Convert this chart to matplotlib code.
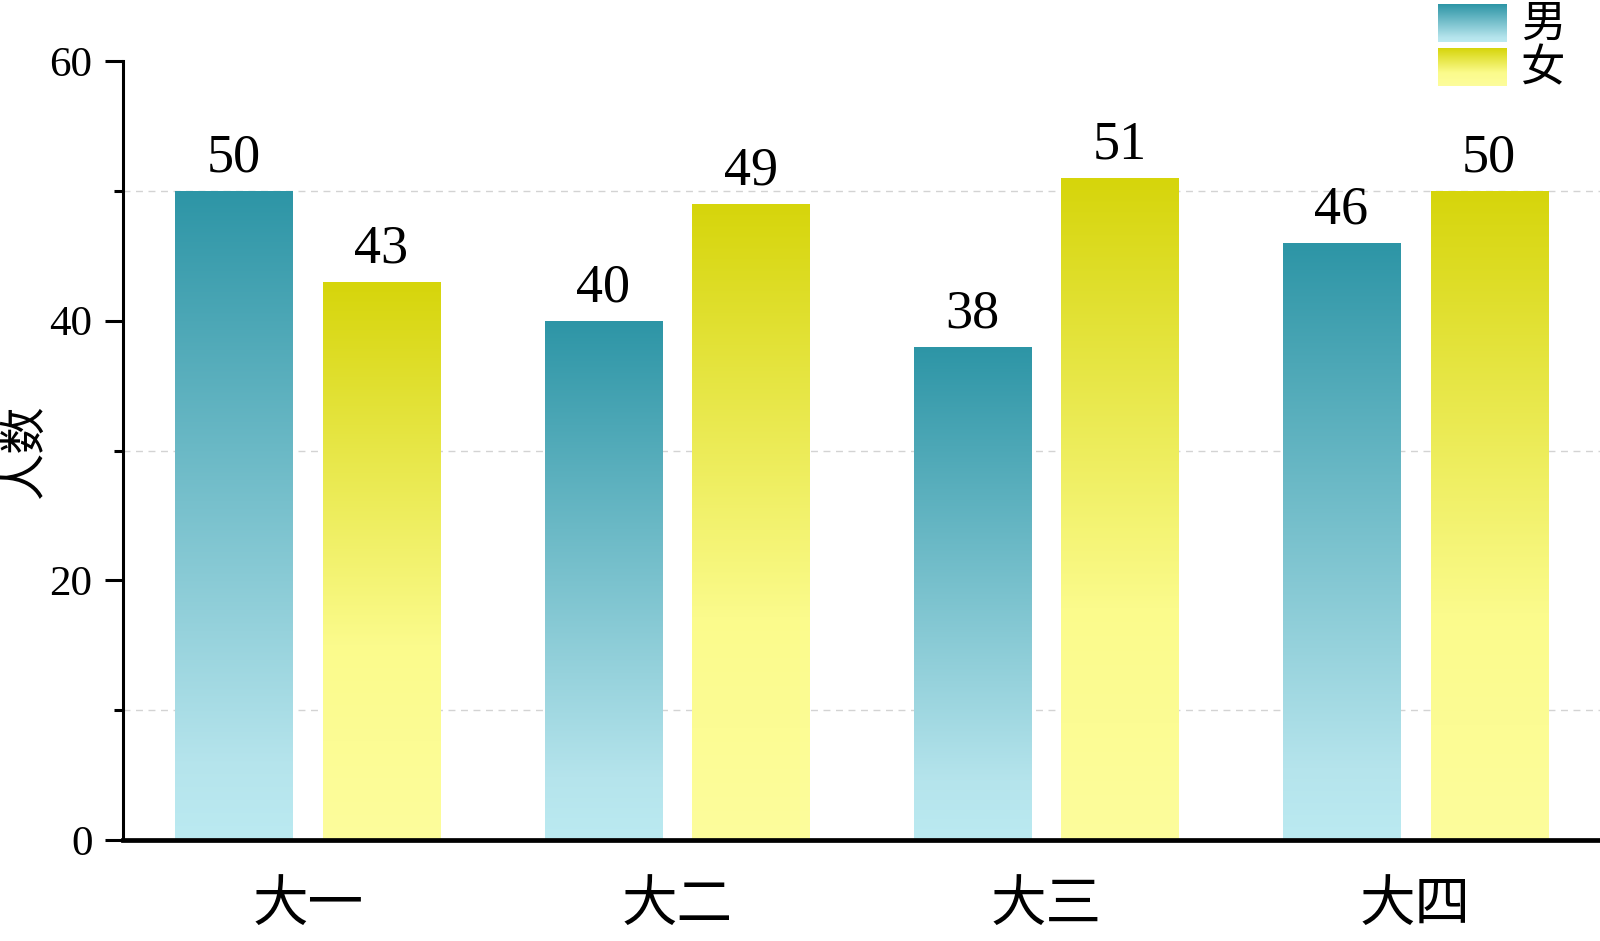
import matplotlib
matplotlib.use('Agg')
import matplotlib.pyplot as plt
from matplotlib.colors import LinearSegmentedColormap
from matplotlib.ticker import MultipleLocator
import numpy as np

# %% Data
grades = ['大一', '大二', '大三', '大四']
male = [50, 40, 38, 46]
female = [43, 49, 51, 50]
series_names = ['男', '女']

cjk = ['Noto Sans CJK SC', 'DejaVu Sans']
num_font = 'Liberation Serif'

# Gradients: light at the bottom, dark at the top.
male_cmap = LinearSegmentedColormap.from_list(
    'male', [(0.0, '#bbeaf1'), (0.12, '#b5e4ec'), (1.0, '#2d95a6')])
female_cmap = LinearSegmentedColormap.from_list(
    'female', [(0.0, '#fdfd9c'), (0.35, '#fbfb8c'), (1.0, '#d6d50b')])
grad = np.linspace(0, 1, 256).reshape(-1, 1)

# %% Figure
fig = plt.figure(figsize=(16, 9.41), dpi=100)
ax = fig.add_axes([0.0769, 0.1074, 0.9231, 0.8277])

x = np.arange(len(grades))
w = 0.317
off = 0.2


def gradient_bars(xs, vals, cmap):
    bars = ax.bar(xs, vals, w, color='none', edgecolor='none', zorder=2)
    for b in bars:
        x0, y0 = b.get_x(), b.get_y()
        im = ax.imshow(grad, cmap=cmap, origin='lower', aspect='auto',
                       extent=[x0, x0 + b.get_width(), y0, y0 + b.get_height()],
                       zorder=2, interpolation='bilinear')
        im.set_clip_path(b)
    for xi, v in zip(xs, vals):
        ax.annotate(str(v), (xi, v), xytext=(0, 5), textcoords='offset points',
                    ha='center', va='bottom', fontsize=39, family=num_font)
    return bars


gradient_bars(x - off, male, male_cmap)
gradient_bars(x + off, female, female_cmap)

ax.set_xlim(-0.5, 3.5)
ax.set_ylim(0, 60)

# Axes styling
for s in ['top', 'right']:
    ax.spines[s].set_visible(False)
ax.spines['left'].set_linewidth(2.2)
ax.spines['bottom'].set_linewidth(3.4)
ax.spines['bottom'].set_zorder(5)

ax.yaxis.set_major_locator(MultipleLocator(20))
ax.yaxis.set_minor_locator(MultipleLocator(10))
ax.tick_params(axis='y', which='major', length=13, width=2.2, pad=9,
               labelsize=31)
ax.tick_params(axis='y', which='minor', length=6.5, width=2.2)
for lab in ax.get_yticklabels():
    lab.set_family(num_font)

ax.set_xticks(x)
ax.set_xticklabels(grades, family=cjk, fontsize=40)
ax.tick_params(axis='x', length=0, pad=26)

ax.set_ylabel('人数', family=cjk, fontsize=34)
ax.yaxis.set_label_coords(-0.05, 0.5)

# Dashed gridlines at the minor positions
ax.yaxis.grid(True, which='minor', ls=(0, (5, 4)), color='#d3d3d3', lw=1.0)
ax.set_axisbelow(True)

# %% Legend with gradient swatches
for i, (name, cmap) in enumerate(zip(series_names, [male_cmap, female_cmap])):
    top = 4 + i * 44
    lax = fig.add_axes([1438 / 1600, 1 - (top + 38) / 941, 69 / 1600, 38 / 941])
    lax.imshow(grad, cmap=cmap, origin='lower', aspect='auto')
    lax.axis('off')
    fig.text(1543 / 1600, 1 - (top + 20) / 941, name, family=cjk, fontsize=32,
             ha='center', va='center')

plt.savefig('out.png', dpi=100)
